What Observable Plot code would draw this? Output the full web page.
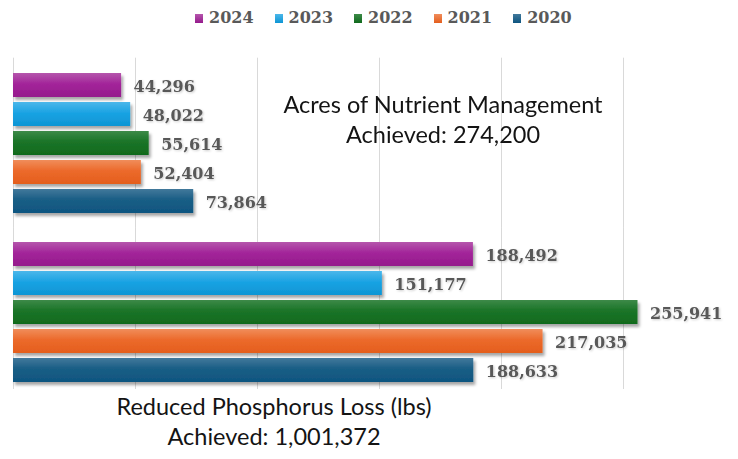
<!DOCTYPE html>
<html>
<head>
<meta charset="utf-8">
<script src="https://cdn.jsdelivr.net/npm/d3@7"></script>
<script src="https://cdn.jsdelivr.net/npm/@observablehq/plot@0.6"></script>
<style>
  html, body { margin: 0; padding: 0; background: #fff; }
  #wrap { position: relative; width: 738px; height: 459px; overflow: hidden; }
  #wrap svg { position: absolute; left: 0; top: 0; }
  .legend { position: absolute; left: 195px; top: 5px; display: flex; align-items: center;
    font-family: "DejaVu Serif", serif; font-weight: bold; font-size: 16px; color: #595959; line-height: 26px; }
  .legend .item { display: flex; align-items: center; margin-right: 21px; }
  .legend .sw { width: 8px; height: 9px; margin-right: 6px; }
  .note { position: absolute; font-family: Lato, sans-serif; font-size: 23.5px; line-height: 30px;
    color: #141414; text-align: center; white-space: nowrap; }
</style>
</head>
<body>
<div id="wrap"></div>
<script>
const years = ["2024", "2023", "2022", "2021", "2020"];
const colors = ["#a3259a", "#1aa3e3", "#1b7428", "#ec6a2b", "#1a5e85"];
const colorsTop = ["#b556ac", "#4bb7ea", "#3d8a48", "#f08d5b", "#41799b"];
const colorsBottom = ["#951a8c", "#0d95d4", "#106a1d", "#e45e1d", "#0e5580"];
const groups = ["Acres of Nutrient Management", "Reduced Phosphorus Loss (lbs)"];
const acres = [44296, 48022, 55614, 52404, 73864];
const phosphorus = [188492, 151177, 255941, 217035, 188633];
const gridTicks = [0, 50000, 100000, 150000, 200000, 250000, 300000];
const notes = [
  ["Acres of Nutrient Management", "Achieved: 274,200"],
  ["Reduced Phosphorus Loss (lbs)", "Achieved: 1,001,372"]
];

const rows = [];
years.forEach((y, i) => rows.push({group: groups[0], year: y, value: acres[i]}));
years.forEach((y, i) => rows.push({group: groups[1], year: y, value: phosphorus[i]}));

const fmt = d3.format(",");

const plot = Plot.plot({
  width: 738,
  height: 459,
  marginTop: 57,
  marginBottom: 69,
  marginLeft: 13,
  marginRight: 0,
  x: {domain: [0, 300000], range: [13, 745], axis: null},
  y: {domain: years, padding: 0.16, axis: null},
  fy: {domain: groups, range: [67.3, 388], paddingInner: 0.1135, paddingOuter: 0, axis: null},
  marks: [
    Plot.ruleX(gridTicks, {fy: () => groups[0], stroke: "#d9d9d9", strokeWidth: 1, insetTop: -10.3, insetBottom: -9.7}),
    Plot.ruleX(gridTicks, {fy: () => groups[1], stroke: "#d9d9d9", strokeWidth: 1, insetTop: -9.7, insetBottom: -2}),
    ...years.map((yr, i) => Plot.barX(rows.filter(d => d.year === yr), {
      fy: "group", y: "year", x: "value", fill: `url(#grad-${yr})`
    })),
    Plot.text(rows, {
      fy: "group", y: "year", x: "value", text: d => fmt(d.value),
      dx: 12, dy: 1, textAnchor: "start", fontFamily: "DejaVu Serif", fontWeight: "bold",
      fontSize: 16, fill: "#595959"
    })
  ]
});

const NS = "http://www.w3.org/2000/svg";
const defs = document.createElementNS(NS, "defs");
let defsHtml = "";
years.forEach((yr, i) => {
  defsHtml += `<linearGradient id="grad-${yr}" x1="0" y1="0" x2="0" y2="1">
    <stop offset="0" stop-color="${colorsTop[i]}"/>
    <stop offset="0.45" stop-color="${colors[i]}"/>
    <stop offset="1" stop-color="${colorsBottom[i]}"/>
  </linearGradient>`;
});
defsHtml += `<filter id="shadow" x="-5%" y="-20%" width="115%" height="160%">
  <feDropShadow dx="2" dy="3" stdDeviation="1.8" flood-color="#000" flood-opacity="0.35"/>
</filter>
<filter id="tshadow" x="-5%" y="-20%" width="115%" height="160%">
  <feDropShadow dx="1" dy="1" stdDeviation="0.8" flood-color="#000" flood-opacity="0.2"/>
</filter>`;
defs.innerHTML = defsHtml;
plot.insertBefore(defs, plot.firstChild);
plot.querySelectorAll('g[aria-label="bar"]').forEach(g => g.setAttribute("filter", "url(#shadow)"));
plot.querySelectorAll('g[aria-label="text"]').forEach(g => g.setAttribute("filter", "url(#tshadow)"));

const wrap = document.getElementById("wrap");
wrap.appendChild(plot);

// legend
const legend = document.createElement("div");
legend.className = "legend";
years.forEach((yr, i) => {
  const item = document.createElement("div");
  item.className = "item";
  const sw = document.createElement("span");
  sw.className = "sw";
  sw.style.background = `linear-gradient(${colorsTop[i]}, ${colorsBottom[i]})`;
  const t = document.createElement("span");
  t.textContent = yr;
  item.appendChild(sw);
  item.appendChild(t);
  legend.appendChild(item);
});
wrap.appendChild(legend);

// annotations
const n1 = document.createElement("div");
n1.className = "note";
n1.style.left = "243px"; n1.style.width = "400px"; n1.style.top = "89px";
n1.innerHTML = notes[0].join("<br>");
wrap.appendChild(n1);
const n2 = document.createElement("div");
n2.className = "note";
n2.style.left = "74px"; n2.style.width = "400px"; n2.style.top = "391px";
n2.innerHTML = notes[1].join("<br>");
wrap.appendChild(n2);
</script>
</body>
</html>
